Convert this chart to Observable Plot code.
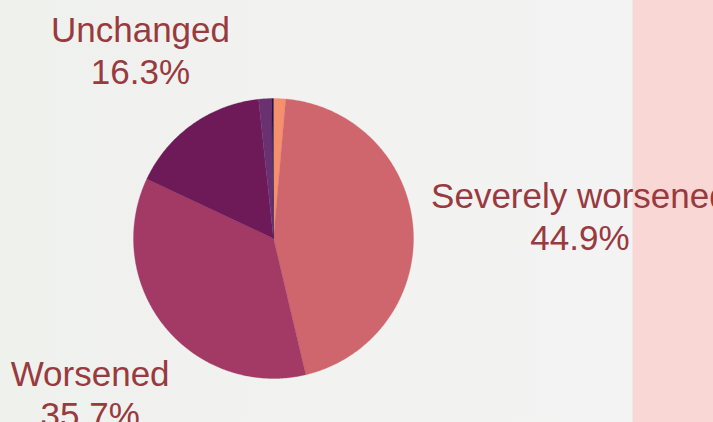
<!DOCTYPE html>
<html><head><meta charset="utf-8">
<script src="https://cdn.jsdelivr.net/npm/d3@7"></script>
<script src="https://cdn.jsdelivr.net/npm/@observablehq/plot@0.6"></script>
<style>
html,body{margin:0;padding:0;width:713px;height:422px;overflow:hidden;}
body{background:linear-gradient(to right,#eff1ed 0px,#f2f2f1 300px,#f3f3f3 632px,#f9d7d5 633px,#f9d7d5 713px);}
#chart svg{display:block;background:transparent;}
</style></head><body><div id="chart"></div>
<script>
// data (clockwise from 12 o'clock)
const categories = ["Improved", "Severely worsened", "Worsened", "Unchanged", "Unsure", "Other"];
const shares = [1.4, 44.9, 35.7, 16.3, 1.5, 0.2];
const sliceColors = ["#f4906c", "#cf666e", "#a23a65", "#6e1a58", "#6a3170", "#2b1040"];
const labelled = ["Severely worsened", "Worsened", "Unchanged"];

const W = 713, H = 422, R = 140, CX = 273, CY = 238;
const data = categories.map((c, i) => ({category: c, value: shares[i]}));
const arcs = d3.pie().sort(null).value(d => d.value)(data);

// slice outlines as polygons in unit-radius coordinates
const pts = [];
arcs.forEach(a => {
  const c = a.data.category;
  const n = Math.max(3, Math.ceil((a.endAngle - a.startAngle) / (Math.PI / 360)));
  pts.push({category: c, x: 0, y: 0});
  for (let k = 0; k <= n; k++) {
    const t = a.startAngle + (a.endAngle - a.startAngle) * k / n;
    pts.push({category: c, x: Math.sin(t), y: Math.cos(t)});
  }
  pts.push({category: c, x: 0, y: 0});
});

// label placement: mid-angle, with per-label pixel nudges (styling)
const nudge = {"Severely worsened": [76, -6], "Worsened": [-4, 9], "Unchanged": [1, -1]};
const labels = arcs.filter(a => labelled.includes(a.data.category)).map(a => {
  const mid = (a.startAngle + a.endAngle) / 2;
  const [dx, dy] = nudge[a.data.category];
  return {
    text: `${a.data.category}\n${a.data.value}%`,
    x: 1.65 * Math.sin(mid) + dx / R,
    y: 1.65 * Math.cos(mid) - dy / R
  };
});

const chart = Plot.plot({
  width: W, height: H,
  margin: 0,
  x: {domain: [-CX / R, (W - CX) / R], axis: null},
  y: {domain: [-(H - CY) / R, CY / R], axis: null},
  color: {domain: categories, range: sliceColors},
  style: {background: "transparent", overflow: "visible"},
  marks: [
    Plot.line(pts, {x: "x", y: "y", z: "category", fill: "category", stroke: "category", strokeWidth: 0.3, curve: "linear"}),
    Plot.text(labels, {x: "x", y: "y", text: "text", fill: "#983a3e", fontSize: 35,
      fontFamily: "Liberation Sans, Arial, sans-serif", lineHeight: 1.2, lineAnchor: "middle", textAnchor: "middle"})
  ]
});
document.getElementById("chart").append(chart);
</script></body></html>
